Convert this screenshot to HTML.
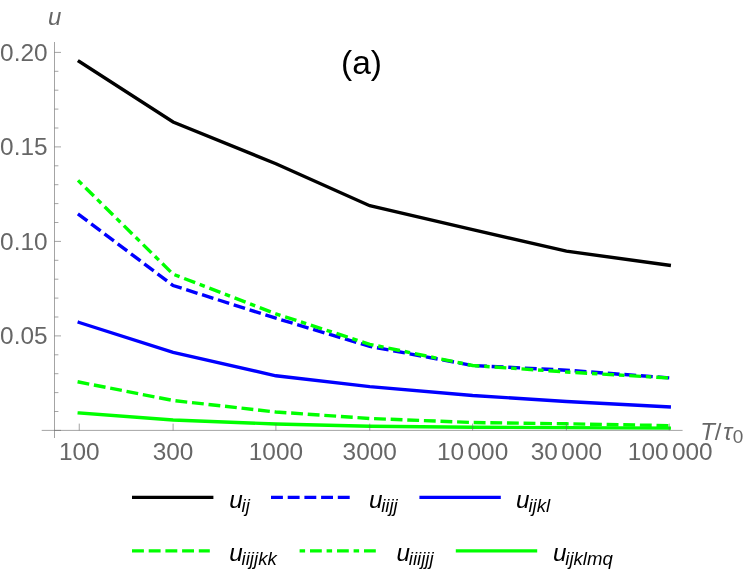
<!DOCTYPE html>
<html><head><meta charset="utf-8"><title>plot</title>
<style>
html,body{margin:0;padding:0;background:#fff;}
body{width:747px;height:581px;overflow:hidden;font-family:"Liberation Sans",sans-serif;}
svg{display:block;will-change:transform;}
text{font-family:"Liberation Sans",sans-serif;}
.t{font-size:24.4px;fill:#666;}
.l{font-size:24.3px;fill:#000;font-style:italic;}
.s{font-size:18.6px;}
</style></head><body>
<svg width="747" height="581" viewBox="0 0 747 581">
<rect width="747" height="581" fill="#fff"/>

<g>
<polyline points="79.25,61.50 173.10,122.00 275.90,163.70 369.75,205.70 472.60,229.70 566.40,251.10 669.25,265.30" fill="none" stroke="#000" stroke-width="3.4" stroke-linejoin="miter" stroke-linecap="square"/>
<polyline points="77.89,213.78 173.10,285.50 275.90,318.20 369.75,346.40 472.60,365.50 566.40,370.20 669.25,377.90" fill="none" stroke="#0000ff" stroke-width="3.4" stroke-linejoin="miter" stroke-dasharray="11.85 4.77" stroke-dashoffset="0"/>
<polyline points="79.25,322.50 173.10,352.30 275.90,375.80 369.75,386.60 472.60,395.50 566.40,401.50 669.25,406.90" fill="none" stroke="#0000ff" stroke-width="3.4" stroke-linejoin="miter" stroke-linecap="square"/>
<polyline points="77.58,381.77 173.10,400.50 275.90,412.00 369.75,418.50 472.60,422.50 566.40,423.80 669.25,425.60" fill="none" stroke="#00ff00" stroke-width="3.4" stroke-linejoin="miter" stroke-dasharray="11.85 4.77" stroke-dashoffset="0"/>
<polyline points="78.04,180.41 173.10,274.20 275.90,313.80 369.75,344.30 472.60,365.50 566.40,372.00 669.25,378.00" fill="none" stroke="#00ff00" stroke-width="3.4" stroke-linejoin="miter" stroke-dasharray="5.5 4.9 11.8 4.8" stroke-dashoffset="0"/>
<polyline points="79.25,413.00 173.10,420.00 275.90,424.00 369.75,426.20 472.60,427.30 566.40,427.60 669.25,428.10" fill="none" stroke="#00ff00" stroke-width="3.4" stroke-linejoin="miter" stroke-linecap="square"/>
</g>
<g stroke="#666" stroke-width="0.6" fill="none">
<line x1="41.7" y1="430.4" x2="682.6" y2="430.4"/>
<line x1="54.5" y1="42" x2="54.5" y2="438"/>
<line x1="54.5" y1="430.40" x2="61" y2="430.40"/>
<line x1="54.5" y1="411.50" x2="58.4" y2="411.50"/>
<line x1="54.5" y1="392.60" x2="58.4" y2="392.60"/>
<line x1="54.5" y1="373.70" x2="58.4" y2="373.70"/>
<line x1="54.5" y1="354.80" x2="58.4" y2="354.80"/>
<line x1="54.5" y1="335.90" x2="61" y2="335.90"/>
<line x1="54.5" y1="317.00" x2="58.4" y2="317.00"/>
<line x1="54.5" y1="298.10" x2="58.4" y2="298.10"/>
<line x1="54.5" y1="279.20" x2="58.4" y2="279.20"/>
<line x1="54.5" y1="260.30" x2="58.4" y2="260.30"/>
<line x1="54.5" y1="241.40" x2="61" y2="241.40"/>
<line x1="54.5" y1="222.50" x2="58.4" y2="222.50"/>
<line x1="54.5" y1="203.60" x2="58.4" y2="203.60"/>
<line x1="54.5" y1="184.70" x2="58.4" y2="184.70"/>
<line x1="54.5" y1="165.80" x2="58.4" y2="165.80"/>
<line x1="54.5" y1="146.90" x2="61" y2="146.90"/>
<line x1="54.5" y1="128.00" x2="58.4" y2="128.00"/>
<line x1="54.5" y1="109.10" x2="58.4" y2="109.10"/>
<line x1="54.5" y1="90.20" x2="58.4" y2="90.20"/>
<line x1="54.5" y1="71.30" x2="58.4" y2="71.30"/>
<line x1="54.5" y1="52.40" x2="61" y2="52.40"/>
<line x1="79.25" y1="423.6" x2="79.25" y2="430.4"/>
<line x1="173.1" y1="423.6" x2="173.1" y2="430.4"/>
<line x1="275.9" y1="423.6" x2="275.9" y2="430.4"/>
<line x1="369.75" y1="423.6" x2="369.75" y2="430.4"/>
<line x1="472.6" y1="423.6" x2="472.6" y2="430.4"/>
<line x1="566.4" y1="423.6" x2="566.4" y2="430.4"/>
<line x1="669.25" y1="423.6" x2="669.25" y2="430.4"/>
</g>
<text class="t" x="47.6" y="60.70" text-anchor="end">0.20</text>
<text class="t" x="47.6" y="155.20" text-anchor="end">0.15</text>
<text class="t" x="47.6" y="249.70" text-anchor="end">0.10</text>
<text class="t" x="47.6" y="344.20" text-anchor="end">0.05</text>
<text class="t" x="79.25" y="460" text-anchor="middle">100</text>
<text class="t" x="173.1" y="460" text-anchor="middle">300</text>
<text class="t" x="275.9" y="460" text-anchor="middle">1000</text>
<text class="t" x="369.75" y="460" text-anchor="middle">3000</text>
<text class="t" x="472.6" y="460" text-anchor="middle">10<tspan dx="3.4">000</tspan></text>
<text class="t" x="566.4" y="460" text-anchor="middle">30<tspan dx="3.4">000</tspan></text>
<text class="t" x="670.25" y="460" text-anchor="middle">100<tspan dx="3.4">000</tspan></text>
<text class="t" x="48" y="24.6" font-style="italic" style="font-size:24px">u</text>
<text class="t" x="700.2" y="439.5" style="font-size:24px"><tspan font-style="italic">T</tspan>/<tspan font-style="italic" dx="1.8">τ</tspan><tspan dy="3.5" dx="0.3" style="font-size:19px">0</tspan></text>
<text x="341" y="74.1" font-size="33.5" fill="#000">(a)</text>
<line x1="132" y1="497.45" x2="213.4" y2="497.45" stroke="#000" stroke-width="3.3"/>
<text class="l" x="229.3" y="508.1">u<tspan class="s" dy="3.9" dx="-1.2">ij</tspan></text>
<line x1="271" y1="497.45" x2="349.8" y2="497.45" stroke="#0000ff" stroke-width="3.3" stroke-dasharray="11.9 4.8"/>
<text class="l" x="368.9" y="508.1">u<tspan class="s" dy="3.9" dx="-1.2">iijj</tspan></text>
<line x1="419.4" y1="497.45" x2="500.8" y2="497.45" stroke="#0000ff" stroke-width="3.3"/>
<text class="l" x="516.1" y="508.1">u<tspan class="s" dy="3.9" dx="-1.2">ijkl</tspan></text>
<line x1="132" y1="550.85" x2="209.8" y2="550.85" stroke="#00ff00" stroke-width="3.3" stroke-dasharray="11.9 4.8"/>
<text class="l" x="229.3" y="560.8">u<tspan class="s" dy="3.9" dx="-1.2">iijjkk</tspan></text>
<line x1="299.6" y1="550.85" x2="375.9" y2="550.85" stroke="#00ff00" stroke-width="3.3" stroke-dasharray="5.5 4.9 11.8 4.8"/>
<text class="l" x="396.5" y="560.8">u<tspan class="s" dy="3.9" dx="-1.2">iiijjj</tspan></text>
<line x1="455.8" y1="550.85" x2="537.2" y2="550.85" stroke="#00ff00" stroke-width="3.3"/>
<text class="l" x="553" y="560.8">u<tspan class="s" dy="3.9" dx="-1.2">ijklmq</tspan></text>
</svg></body></html>
